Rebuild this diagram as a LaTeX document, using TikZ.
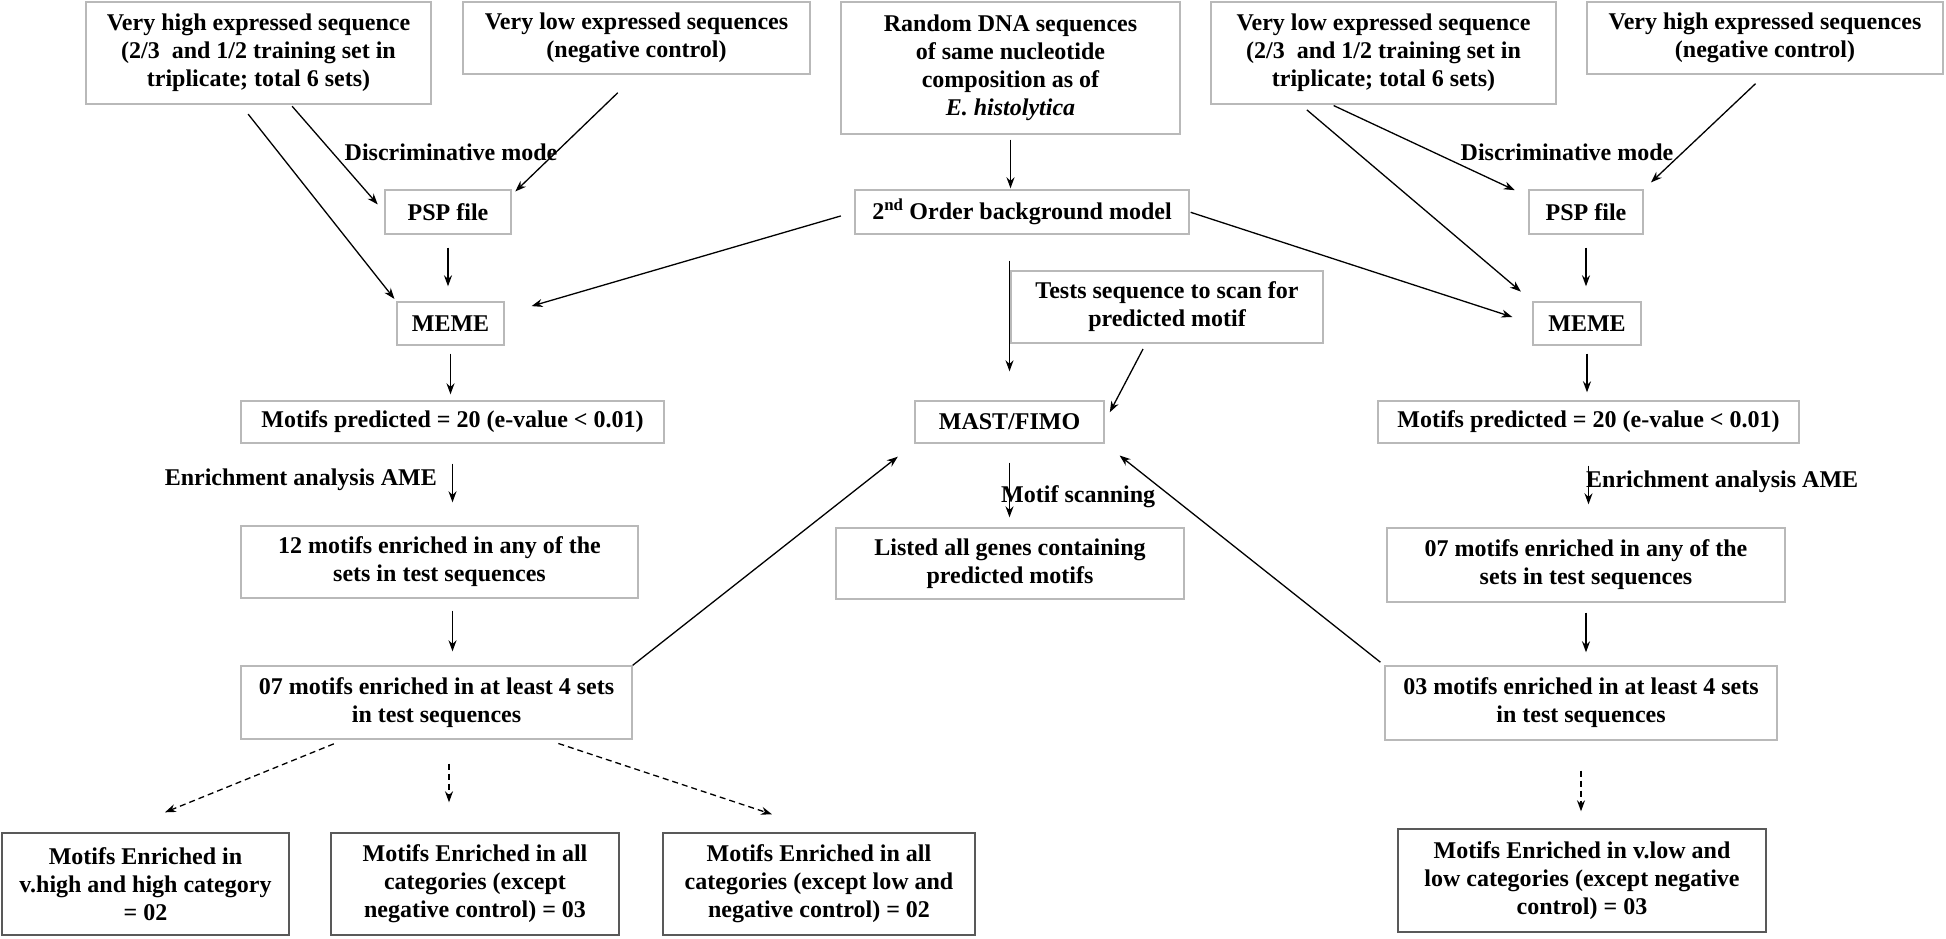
\documentclass[tikz,border=0pt]{standalone}
\usepackage{fontspec}
\setmainfont{Liberation Serif}
\usetikzlibrary{arrows.meta,calc}

\begin{document}
\begin{tikzpicture}[x = 1pt, y = -1pt,
	box/.style = {draw = gray!55, line width = 1.4pt, align = center, inner sep = 0pt, font = \fontsize{24}{28}\selectfont\bfseries},
	catbox/.style = {box, draw = black!65},
	lbl/.style = {inner sep = 0pt, font = \fontsize{24}{28}\selectfont\bfseries},
	arr/.style = {line width = 1.3pt, -{Stealth[length = 11pt, width = 8pt]}},
	dsh/.style = {arr, dash pattern = on 6pt off 4pt}]
	 \useasboundingbox (0, 0) rectangle (1946, 938);

	 \node[box, minimum width = 345pt, minimum height = 102pt] (hiSeq) at (258.5, 53) {Very high expressed sequence\\(2/3\ \ and 1/2 training set in\\triplicate; total 6 sets)};
	 \node[box, minimum width = 347pt, minimum height = 72pt] (loNeg) at (636.5, 38) {Very low expressed sequences\\(negative control)};
	 \node[box, minimum width = 339pt, minimum height = 132pt] (randDNA) at (1010.5, 68) {Random DNA sequences\\of same nucleotide\\composition as of\\\textit{E. histolytica}};
	 \node[box, minimum width = 345pt, minimum height = 102pt] (loSeq) at (1383.5, 53) {Very low expressed sequence\\(2/3\ \ and 1/2 training set in\\triplicate; total 6 sets)};
	 \node[box, minimum width = 356pt, minimum height = 72pt] (hiNeg) at (1765, 38) {Very high expressed sequences\\(negative control)};

	 \node[box, minimum width = 126pt, minimum height = 44pt] (pspL) at (448, 212) {PSP file};
	 \node[box, minimum width = 334pt, minimum height = 44pt] (bgModel) at (1022, 212) {2\textsuperscript{nd} Order background model};
	 \node[box, minimum width = 114pt, minimum height = 44pt] (pspR) at (1586, 212) {PSP file};

	 \node[box, minimum width = 107pt, minimum height = 43pt] (memeL) at (450.5, 323.5) {MEME};
	 \node[box, minimum width = 312pt, minimum height = 72pt] (tests) at (1167, 307) {Tests sequence to scan for\\predicted motif};
	 \node[box, minimum width = 108pt, minimum height = 43pt] (memeR) at (1587, 323.5) {MEME};

	 \node[box, minimum width = 423pt, minimum height = 42pt] (predL) at (452.5, 422) {Motifs predicted = 20 (e-value < 0.01)};
	 \node[box, minimum width = 189pt, minimum height = 42pt] (mast) at (1009.5, 422) {MAST/FIMO};
	 \node[box, minimum width = 421pt, minimum height = 42pt] (predR) at (1588.5, 422) {Motifs predicted = 20 (e-value < 0.01)};

	 \node[box, minimum width = 397pt, minimum height = 72pt] (anyL) at (439.5, 562) {12 motifs enriched in any of the\\sets in test sequences};
	 \node[box, minimum width = 348pt, minimum height = 71pt] (listed) at (1010, 563.5) {Listed all genes containing\\predicted motifs};
	 \node[box, minimum width = 398pt, minimum height = 74pt] (anyR) at (1586, 565) {07 motifs enriched in any of the\\sets in test sequences};

	 \node[box, minimum width = 391pt, minimum height = 73pt] (leastL) at (436.5, 702.5) {07 motifs enriched in at least 4 sets\\in test sequences};
	 \node[box, minimum width = 392pt, minimum height = 74pt] (leastR) at (1581, 703) {03 motifs enriched in at least 4 sets\\in test sequences};

	 \node[catbox, minimum width = 287pt, minimum height = 102pt] (catA) at (145.5, 884) {Motifs Enriched in\\v.high and high category\\= 02};
	 \node[catbox, minimum width = 288pt, minimum height = 102pt] (catB) at (475, 884) {Motifs Enriched in all\\categories (except\\negative control) = 03};
	 \node[catbox, minimum width = 312pt, minimum height = 102pt] (catC) at (819, 884) {Motifs Enriched in all\\categories (except low and\\negative control) = 02};
	 \node[catbox, minimum width = 368pt, minimum height = 103pt] (catD) at (1582, 880.5) {Motifs Enriched in v.low and\\low categories (except negative\\control) = 03};

	 \node[lbl] (discL) at (451, 152) {Discriminative mode};
	 \node[lbl] (discR) at (1567, 152) {Discriminative mode};
	 \node[lbl, anchor = east] (enrL) at (437, 480) {Enrichment analysis AME};
	 \node[lbl, anchor = west] (enrR) at (1586, 482) {Enrichment analysis AME};
	 \node[lbl, anchor = west] (scan) at (1001, 497) {Motif scanning};

	 \draw[arr, shorten <= 2pt, shorten >= 10pt] (hiSeq.-58) -- (pspL.west);
	 \draw[arr, shorten <= 12pt, shorten >= 3pt] (hiSeq.-109) -- (memeL.north west);
	 \draw[arr, shorten <= 26pt, shorten >= 5pt] (loNeg.south) -- (pspL.15);
	 \draw[arr, shorten <= 13pt, shorten >= 15pt] (pspL.south) -- (pspL.south |- memeL.north);
	 \draw[arr, shorten <= 14pt, shorten >= 28pt] (bgModel.west) -- (memeL.10);

	 \draw[arr, shorten <= 5pt, shorten >= 1pt] (randDNA.south) -- (randDNA.south |- bgModel.north);
	 \draw[arr, shorten <= 1pt, shorten >= 21pt] (bgModel.east) -- (memeR.west);
	 \draw[arr, shorten <= 26pt, shorten >= 29pt] (bgModel.south -| mast.north) -- (mast.north);
	 \draw[arr, shorten <= 6pt, shorten >= 11pt] (tests.-120) -- (mast.east);
	 \draw[arr, shorten <= 19pt, shorten >= 10pt] (mast.south) -- (mast.south |- listed.north);

	 \draw[arr, shorten <= 2pt, shorten >= 15pt] (loSeq.-135) -- (pspR.165);
	 \draw[arr, shorten <= 8pt, shorten >= 15pt] (loSeq.-148) -- (memeR.north west);
	 \draw[arr, shorten <= 13pt, shorten >= 10pt] (hiNeg.south) -- (pspR.north east);
	 \draw[arr, shorten <= 13pt, shorten >= 15pt] (pspR.south) -- (pspR.south |- memeR.north);

	 \draw[arr, shorten <= 8pt, shorten >= 6pt] (memeL.south) -- (memeL.south |- predL.north);
	 \draw[arr, shorten <= 20pt, shorten >= 23pt] (predL.south) -- (predL.south |- anyL.north);
	 \draw[arr, shorten <= 12pt, shorten >= 14pt] (predL.south |- anyL.south) -- (predL.south |- leastL.north);
	 \draw[arr, shorten >= 21pt] (leastL.north east) -- (mast.south west);

	 \draw[arr, shorten <= 8pt, shorten >= 8pt] (memeR.south) -- (memeR.south |- predR.north);
	 \draw[arr, shorten <= 22pt, shorten >= 23pt] (predR.south) -- (predR.south |- anyR.north);
	 \draw[arr, shorten <= 10pt, shorten >= 13pt] (anyR.south) -- (anyR.south |- leastR.north);
	 \draw[arr, shorten <= 5pt, shorten >= 19pt] (leastR.north west) -- (mast.south east);

	 \draw[dsh, shorten <= 11pt] ([xshift = -92.5pt]leastL.south) -- ($(catA.north) + (19.5, -20)$);
	 \draw[dsh, shorten <= 24pt, shorten >= 30pt] ([xshift = 12.5pt]leastL.south) -- ([xshift = 12.5pt]leastL.south |- catB.north);
	 \draw[dsh, shorten <= 12pt] ([xshift = 110.5pt]leastL.south) -- ($(catC.north) + (-47, -18)$);
	 \draw[dsh, shorten <= 30pt, shorten >= 17pt] (leastR.south) -- (leastR.south |- catD.north);
\end{tikzpicture}
\end{document}
